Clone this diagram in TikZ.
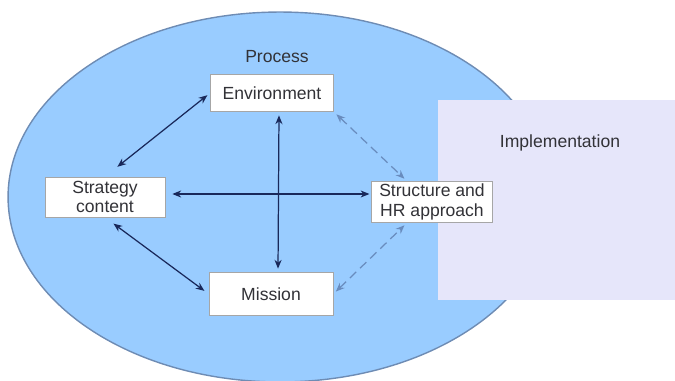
\documentclass[tikz,border=0pt]{standalone}
\usepackage{fontspec}
\setmainfont{Liberation Sans}
\usetikzlibrary{arrows.meta}

\definecolor{procblue}{RGB}{153,204,255}
\definecolor{procedge}{RGB}{110,140,180}
\definecolor{implfill}{RGB}{230,230,250}
\definecolor{arrowblue}{RGB}{25,40,90}
\definecolor{dashblue}{RGB}{105,140,190}
\definecolor{textgray}{RGB}{50,50,55}

\begin{document}
\begin{tikzpicture}[>={Stealth[length=5pt,width=4pt]}, x=0.02cm, y=-0.02cm,
  box/.style={draw=gray!70, fill=white, align=center, inner sep=0pt,
    text=textgray, font=\fontsize{10}{11}\selectfont},
  link/.style={<->, arrowblue, line width=0.7pt},
  dashlink/.style={<->, dashblue, line width=0.7pt, dash pattern=on 5pt off 3pt}]

  \useasboundingbox (0,0) rectangle (675,381);

  % Process ellipse
  \fill[procblue, draw=procedge, line width=0.8pt] (280,197) ellipse [x radius=5.44cm, y radius=3.7cm];
  \node[text=textgray, font=\fontsize{10}{11}\selectfont] (proc) at (277,57) {Process};

  % Implementation block
  \fill[implfill] (438,100) rectangle (675,300);
  \node[text=textgray, font=\fontsize{10}{11}\selectfont] (impl) at (560,143) {Implementation};

  % Boxes
  \node[box, minimum width=2.46cm, minimum height=0.74cm] (env) at (272,93) {Environment};
  \node[box, minimum width=2.4cm, minimum height=0.8cm] (strat) at (105,197) {Strategy\\content};
  \node[box, minimum width=2.48cm, minimum height=0.86cm] (mis) at (271,294) {Mission};
  \node[box, minimum width=2.42cm, minimum height=0.82cm] (struct) at (432,202) {Structure and\\HR approach};

  % Solid links
  \draw[link, shorten <=2pt, shorten >=9pt] (env.west) -- (strat.north);
  \draw[link, shorten <=2pt, shorten >=2pt] ([xshift=0.14cm]env.south) -- ([xshift=0.14cm]mis.north);
  \draw[link, shorten <=4pt, shorten >=1pt] ([yshift=0.06cm]strat.east) -- ([yshift=0.06cm]strat.east -| struct.west);
  \draw[link, shorten <=6pt, shorten >=3pt] (strat.south) -- (mis.west);

  % Dashed links to structure
  \draw[dashlink, shorten <=2pt, shorten >=2pt] (env.south east) -- ([xshift=-0.5cm]struct.north);
  \draw[dashlink, shorten <=2pt, shorten >=2pt] (mis.east) -- ([xshift=-0.5cm]struct.south);

\end{tikzpicture}
\end{document}
